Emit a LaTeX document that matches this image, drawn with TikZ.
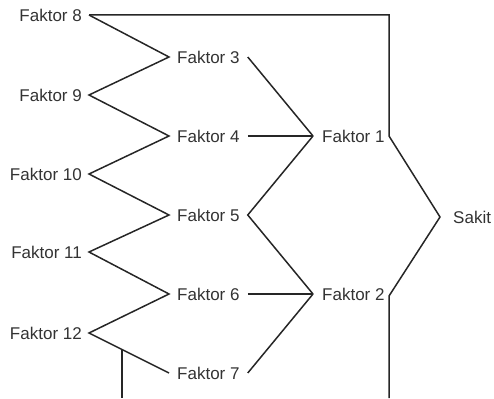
\documentclass[tikz,border=0pt]{standalone}
\usepackage{fontspec}
\setmainfont{Liberation Sans}
\usetikzlibrary{calc}
\begin{document}
\begin{tikzpicture}[x=1pt,y=-1pt,
  lbl/.style={inner ysep=0pt,inner xsep=7pt,font=\fontsize{17}{20}\selectfont,text=black!80},
  mid/.style={lbl,inner xsep=8pt,anchor=west},
  lft/.style={lbl,anchor=east},
  con/.style={line width=1.5pt,draw=black!85,line join=miter}]
\useasboundingbox (0,0) rectangle (494,398);
% left column
\node[lft] (f8) at (89,15) {Faktor 8};
\node[lft] (f9) at (89,95) {Faktor 9};
\node[lft] (f10) at (89,174) {Faktor 10};
\node[lft] (f11) at (89,252) {Faktor 11};
\node[lft] (f12) at (89,333) {Faktor 12};
% middle column
\node[mid] (f3) at (169,57) {Faktor 3};
\node[mid] (f4) at (169,136) {Faktor 4};
\node[mid] (f5) at (169,215) {Faktor 5};
\node[mid] (f6) at (169,294) {Faktor 6};
\node[mid] (f7) at (169,373) {Faktor 7};
% right column
\node[lbl,inner xsep=9pt,anchor=west] (f1) at (313,136) {Faktor 1};
\node[lbl,inner xsep=9pt,anchor=west] (f2) at (313,294) {Faktor 2};
\node[lbl,inner xsep=13pt,anchor=west] (sakit) at (440,217) {Sakit};
% corner coordinates
\coordinate (tr) at (389,15);
\coordinate (r1) at (389,136);
\coordinate (r2) at (389,296);
\coordinate (rb) at (389,398);
\coordinate (bottom) at (0,398);
\coordinate (br) at ($(f12.east)!0.41!(f7.west)$);
% zigzag
\draw[con] (f8.east) -- (f3.west) -- (f9.east) -- (f4.west) -- (f10.east)
  -- (f5.west) -- (f11.east) -- (f6.west) -- (f12.east) -- (f7.west);
\draw[con] (br) -- (br |- bottom);
% middle to right
\draw[con] (f3.east) -- (f1.west);
\draw[con] (f4.east) -- (f1.west);
\draw[con] (f1.west) -- (f5.east) -- (f2.west);
\draw[con] (f6.east) -- (f2.west);
\draw[con] (f7.east) -- (f2.west);
% right outline
\draw[con] (f8.east) -- (tr) -- (r1) -- (sakit.west) -- (r2) -- (rb);
\end{tikzpicture}
\end{document}
